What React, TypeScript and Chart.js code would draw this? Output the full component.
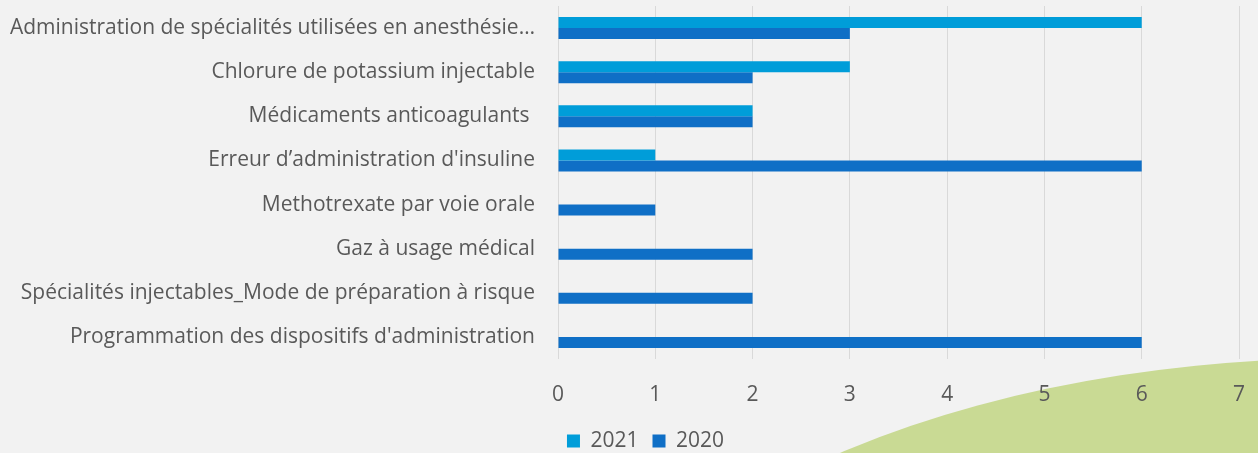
import React, { useEffect, useRef } from "react";
import { Chart, registerables } from "chart.js";

Chart.register(...registerables);

const categories = [
  "Administration de spécialités utilisées en anesthésie…",
  "Chlorure de potassium injectable",
  "Médicaments anticoagulants ",
  "Erreur d’administration d'insuline",
  "Methotrexate par voie orale",
  "Gaz à usage médical",
  "Spécialités injectables_Mode de préparation à risque",
  "Programmation des dispositifs d'administration",
];
const values2021 = [6, 3, 2, 1, 0, 0, 0, 0];
const values2020 = [3, 2, 2, 6, 1, 2, 2, 6];
const seriesLabels = ["2021", "2020"];
const xMin = 0;
const xMax = 7;

const FONT = "'Open Sans', 'Noto Sans', sans-serif";
const TEXT = "#595959";
const FS = 21;
const LEGEND_SHIFT = 52;

const bgPlugin = {
  id: "bgShape",
  beforeDraw(chart: any) {
    const { ctx, width, height } = chart;
    ctx.save();
    ctx.fillStyle = "#f2f2f2";
    ctx.fillRect(0, 0, width, height);
    ctx.fillStyle = "#c9da94";
    ctx.beginPath();
    ctx.ellipse(1350, 760, 790, 402, 0, 0, Math.PI * 2);
    ctx.fill();
    ctx.restore();
  },
  afterLayout(chart: any) {
    if (chart.legend) chart.legend.left += LEGEND_SHIFT;
  },
};

export default function App() {
  const ref = useRef<HTMLCanvasElement | null>(null);

  useEffect(() => {
    if (!ref.current) return;
    const chart = new Chart(ref.current, {
      type: "bar",
      data: {
        labels: categories,
        datasets: [
          {
            label: seriesLabels[0],
            data: values2021,
            backgroundColor: "#009dd9",
            borderWidth: 0,
            categoryPercentage: 0.5,
            barPercentage: 1,
          },
          {
            label: seriesLabels[1],
            data: values2020,
            backgroundColor: "#0f6fc6",
            borderWidth: 0,
            categoryPercentage: 0.5,
            barPercentage: 1,
          },
        ],
      },
      options: {
        indexAxis: "y",
        animation: false,
        responsive: false,
        devicePixelRatio: 1,
        layout: { padding: { left: 0, right: 19, top: 6, bottom: -8.5 } },
        plugins: {
          tooltip: { enabled: false },
          legend: {
            position: "bottom",
            labels: {
              boxWidth: 13,
              boxHeight: 13,
              padding: 14,
              color: TEXT,
              font: { family: FONT, size: FS },
            },
          },
        },
        scales: {
          x: {
            min: xMin,
            max: xMax,
            ticks: {
              stepSize: 1,
              padding: 23,
              color: TEXT,
              font: { family: FONT, size: FS },
            },
            grid: { color: "#d9d9d9", drawTicks: false, lineWidth: 1 },
            border: { display: false },
            afterFit(s: any) {
              s.height = 57.5;
              s.paddingLeft = 0;
              s.paddingRight = 0;
            },
          },
          y: {
            ticks: {
              padding: 23,
              autoSkip: false,
              color: TEXT,
              font: { family: FONT, size: FS },
            },
            grid: { display: false, drawTicks: false },
            border: { display: false },
            afterFit(s: any) {
              s.width = 558;
              s.paddingTop = 0;
              s.paddingBottom = 0;
            },
          },
        },
      },
      plugins: [bgPlugin],
    });
    return () => chart.destroy();
  }, []);

  return (
    <div style={{ position: "fixed", left: 0, top: 0, width: 1258, height: 453, background: "#f2f2f2" }}>
      <canvas ref={ref} width={1258} height={453} style={{ display: "block" }} />
    </div>
  );
}
